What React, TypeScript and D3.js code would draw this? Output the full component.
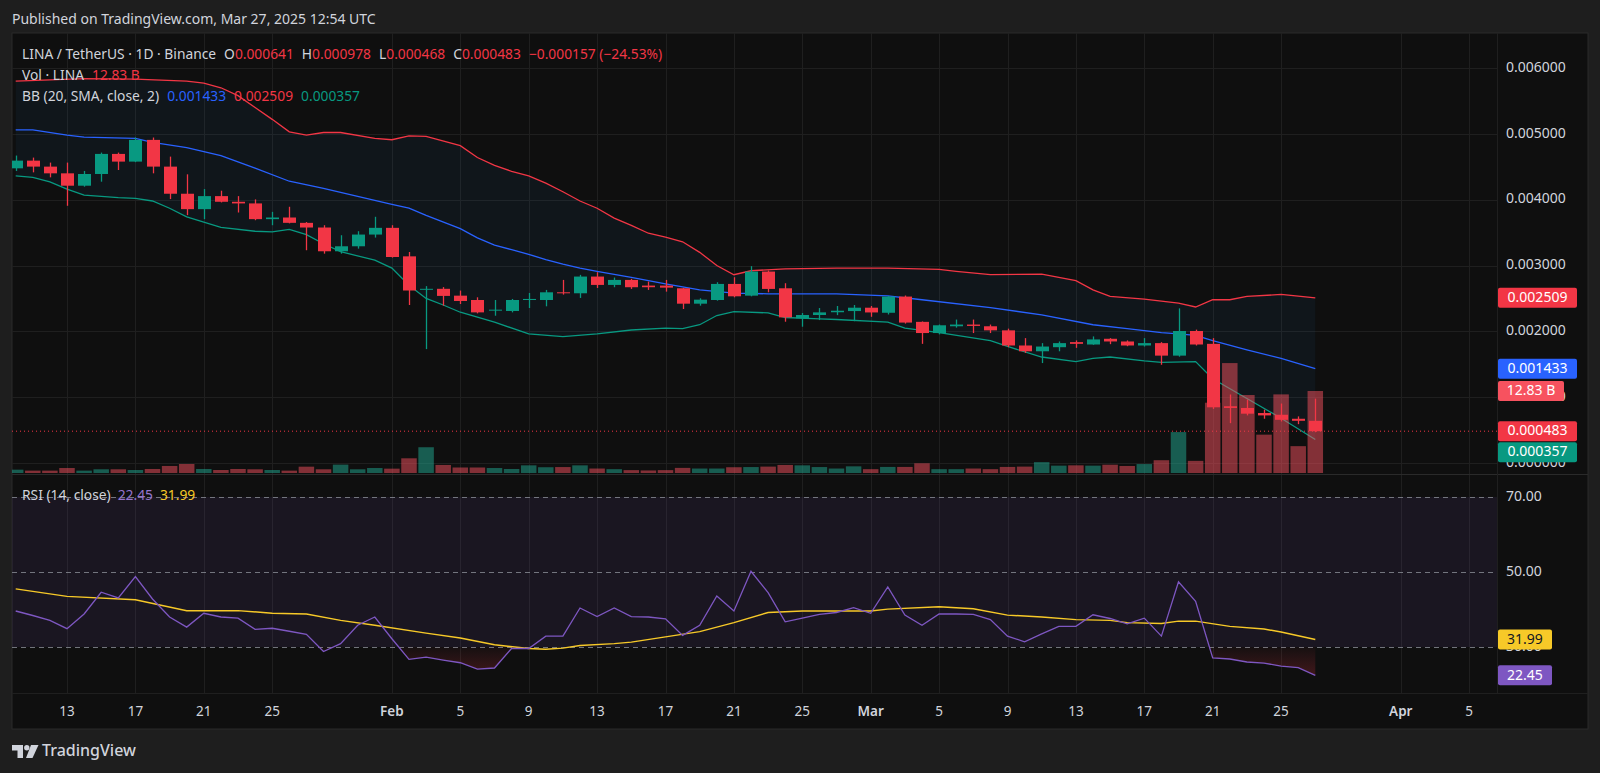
import React from "react";
import * as d3 from "d3";

// LINA / USDT daily, 2025-01-10 .. 2025-03-27
// prices in thousandths of a USDT (1 = 0.001000), volumes in billions
const firstDay = "2025-01-10";

const opens = [
  4.476, 4.593, 4.502, 4.4, 4.212, 4.39, 4.695, 4.578, 4.908, 4.502,
  4.09, 3.856, 4.054, 3.968, 3.943, 3.704, 3.729, 3.648, 3.577, 3.216,
  3.292, 3.47, 3.572, 3.139, 2.631, 2.646, 2.542, 2.476, 2.314, 2.309,
  2.476, 2.476, 2.593, 2.578, 2.832, 2.705, 2.781, 2.695, 2.695, 2.654,
  2.42, 2.476, 2.72, 2.542, 2.908, 2.654, 2.197, 2.248, 2.29, 2.308,
  2.359, 2.282, 2.528, 2.144, 1.974, 2.077, 2.103, 2.077, 2.015, 1.785,
  1.697, 1.759, 1.836, 1.8, 1.887, 1.846, 1.785, 1.821, 1.631, 2.005,
  1.81, 0.862, 0.836, 0.759, 0.733, 0.672, 0.641,
];
const highs = [
  4.67, 4.639, 4.563, 4.563, 4.436, 4.715, 4.715, 4.944, 4.944, 4.654,
  4.385, 4.161, 4.136, 4.054, 4.004, 3.815, 3.892, 3.66, 3.612, 3.46,
  3.521, 3.74, 3.612, 3.205, 2.687, 2.672, 2.619, 2.517, 2.476, 2.492,
  2.583, 2.629, 2.781, 2.858, 2.898, 2.817, 2.797, 2.756, 2.781, 2.66,
  2.502, 2.746, 2.822, 2.99, 2.924, 2.731, 2.278, 2.354, 2.385, 2.4,
  2.385, 2.538, 2.544, 2.15, 2.103, 2.179, 2.179, 2.103, 2.041, 1.897,
  1.821, 1.846, 1.862, 1.923, 1.897, 1.862, 1.897, 1.836, 2.349, 2.026,
  1.897, 1.041, 0.964, 0.81, 0.903, 0.708, 0.978,
];
const lows = [
  4.436, 4.415, 4.339, 3.907, 4.197, 4.273, 4.451, 4.57, 4.4, 4.009,
  3.765, 3.704, 3.958, 3.805, 3.688, 3.612, 3.64, 3.232, 3.18, 3.18,
  3.256, 3.424, 3.12, 2.4, 1.73, 2.39, 2.415, 2.273, 2.237, 2.288,
  2.354, 2.38, 2.558, 2.507, 2.659, 2.67, 2.644, 2.629, 2.603, 2.339,
  2.39, 2.466, 2.517, 2.532, 2.593, 2.146, 2.07, 2.171, 2.246, 2.154,
  2.221, 2.256, 2.118, 1.81, 1.954, 2.056, 1.974, 1.974, 1.759, 1.672,
  1.518, 1.697, 1.749, 1.795, 1.805, 1.774, 1.769, 1.492, 1.615, 1.785,
  0.821, 0.605, 0.723, 0.672, 0.631, 0.59, 0.468,
];
const closes = [
  4.593, 4.502, 4.4, 4.212, 4.39, 4.695, 4.578, 4.908, 4.502, 4.09,
  3.856, 4.054, 3.968, 3.943, 3.704, 3.729, 3.648, 3.577, 3.216, 3.292,
  3.47, 3.572, 3.129, 2.62, 2.646, 2.538, 2.461, 2.288, 2.329, 2.476,
  2.492, 2.593, 2.578, 2.832, 2.705, 2.781, 2.67, 2.67, 2.664, 2.42,
  2.481, 2.72, 2.532, 2.908, 2.644, 2.212, 2.248, 2.288, 2.313, 2.359,
  2.287, 2.528, 2.133, 1.974, 2.092, 2.103, 2.082, 2.015, 1.785, 1.697,
  1.769, 1.821, 1.81, 1.877, 1.846, 1.785, 1.821, 1.631, 2.005, 1.8,
  0.846, 0.836, 0.749, 0.723, 0.656, 0.641, 0.483,
];
const volumes = [
  0.52, 0.37, 0.37, 0.78, 0.37, 0.58, 0.58, 0.47, 0.63, 1.1,
  1.41, 0.63, 0.47, 0.63, 0.58, 0.47, 0.37, 0.99, 0.58, 1.31,
  0.58, 0.78, 0.68, 2.3, 4.03, 1.26, 0.86, 0.86, 0.78, 0.63,
  1.2, 0.9, 0.93, 1.2, 0.7, 0.6, 0.45, 0.4, 0.45, 0.8,
  0.7, 0.7, 0.9, 0.93, 1.0, 1.26, 1.2, 0.93, 0.7, 1.04,
  0.6, 0.95, 0.95, 1.52, 0.6, 0.6, 0.7, 0.6, 0.95, 1.0,
  1.7, 1.15, 1.2, 1.15, 1.3, 1.1, 1.4, 2.0, 6.4, 1.9,
  11.0, 17.2, 12.2, 6.0, 12.3, 4.2, 12.83,
];

// Bollinger bands: [day index, price]
const bbUpper: [number, number][] = [
  [0, 5.8], [2, 5.82], [4, 5.84], [7, 5.83], [10, 5.8], [11, 5.77], [12, 5.7],
  [13, 5.58], [14, 5.4], [15, 5.22], [16, 5.03], [17, 4.98], [18, 5.02], [19, 5.02],
  [21, 4.93], [22, 4.91], [23, 4.97], [24, 4.96], [26, 4.82], [27, 4.64], [28, 4.52],
  [29, 4.43], [30, 4.36], [31, 4.25], [32, 4.12], [33, 3.98], [34, 3.87], [35, 3.72],
  [36, 3.61], [37, 3.49], [38, 3.43], [39, 3.36], [40, 3.2], [41, 3.0], [42, 2.86],
  [43, 2.92], [45, 2.95], [48, 2.96], [51, 2.96], [54, 2.94], [55, 2.91], [57, 2.86],
  [60, 2.87], [62, 2.77], [63, 2.63], [64, 2.53], [66, 2.49], [68, 2.43], [69, 2.37],
  [70, 2.48], [71, 2.48], [72, 2.53], [74, 2.56], [76, 2.509],
];
const bbBasis: [number, number][] = [
  [0, 5.06], [1, 5.06], [3, 4.98], [4, 4.95], [7, 4.93], [8, 4.87], [10, 4.79],
  [12, 4.67], [14, 4.48], [16, 4.28], [18, 4.17], [21, 3.99], [22, 3.93], [23, 3.87],
  [24, 3.76], [26, 3.56], [27, 3.42], [28, 3.31], [29, 3.24], [30, 3.17], [31, 3.09],
  [32, 3.02], [33, 2.96], [34, 2.91], [36, 2.82], [38, 2.72], [40, 2.63], [42, 2.58],
  [44, 2.57], [48, 2.57], [51, 2.54], [53, 2.48], [57, 2.36], [60, 2.25], [63, 2.1],
  [65, 2.04], [67, 1.98], [68, 1.96], [69, 1.94], [70, 1.86], [72, 1.72], [74, 1.59],
  [76, 1.433],
];
const bbLower: [number, number][] = [
  [0, 4.36], [1, 4.34], [2, 4.27], [3, 4.16], [4, 4.07], [6, 4.03], [7, 4.02],
  [8, 3.98], [9, 3.87], [10, 3.74], [12, 3.58], [14, 3.52], [15, 3.51], [16, 3.55],
  [17, 3.47], [18, 3.33], [19, 3.21], [21, 3.08], [22, 2.96], [23, 2.7], [24, 2.5],
  [25, 2.4], [26, 2.29], [28, 2.14], [30, 1.96], [32, 1.92], [34, 1.96], [36, 2.02],
  [38, 2.05], [39, 2.04], [40, 2.1], [41, 2.24], [42, 2.3], [44, 2.28], [45, 2.21],
  [47, 2.19], [48, 2.18], [51, 2.14], [52, 2.05], [54, 1.98], [57, 1.86], [58, 1.77],
  [60, 1.61], [62, 1.54], [63, 1.59], [64, 1.61], [66, 1.55], [67, 1.53], [69, 1.54],
  [70, 1.28], [72, 0.98], [74, 0.68], [76, 0.357],
];

const rsi = [
  39.6, 38.4, 37.1, 34.9, 38.8, 44.6, 43.1, 48.8, 42.8, 38.0,
  35.3, 39.0, 38.0, 37.7, 34.7, 35.0, 34.2, 33.4, 28.8, 30.9,
  35.8, 38.0, 32.2, 26.7, 27.3, 26.5, 25.8, 24.1, 24.4, 29.6,
  29.6, 32.9, 32.9, 40.4, 38.1, 40.4, 38.1, 38.0, 37.5, 33.1,
  35.8, 43.6, 39.6, 50.2, 44.5, 36.7, 37.7, 38.7, 39.2, 40.5,
  39.0, 46.0, 38.5, 35.8, 38.8, 38.8, 38.7, 37.3, 32.9, 31.4,
  33.5, 35.5, 35.5, 38.6, 37.6, 36.2, 37.7, 32.9, 47.4, 42.2,
  27.1, 26.8, 26.0, 25.7, 24.9, 24.5, 22.45,
];
const rsiMa: [number, number][] = [
  [0, 45.5], [3, 43.5], [7, 42.6], [10, 39.7], [13, 39.7], [15, 39.0], [17, 38.8],
  [19, 37.1], [21, 35.8], [24, 33.7], [26, 32.4], [28, 30.6], [30, 29.6], [31, 29.4],
  [32, 29.7], [33, 30.4], [35, 30.9], [36, 31.3], [38, 32.7], [40, 34.1], [42, 36.5],
  [44, 39.2], [46, 39.6], [50, 39.6], [51, 40.1], [54, 40.7], [56, 40.2], [58, 38.5],
  [60, 38.0], [62, 37.3], [64, 37.1], [65, 36.5], [67, 36.3], [68, 36.9], [69, 36.9],
  [71, 35.5], [73, 34.8], [74, 34.0], [76, 31.99],
];

const priceTicks = [0, 1, 2, 3, 4, 5, 6];
const rsiLevels = [70, 50, 30];
const dateTicks: [string, string][] = [
  ["2025-01-13", "13"], ["2025-01-17", "17"], ["2025-01-21", "21"], ["2025-01-25", "25"],
  ["2025-02-01", "Feb"], ["2025-02-05", "5"], ["2025-02-09", "9"], ["2025-02-13", "13"],
  ["2025-02-17", "17"], ["2025-02-21", "21"], ["2025-02-25", "25"], ["2025-03-01", "Mar"],
  ["2025-03-05", "5"], ["2025-03-09", "9"], ["2025-03-13", "13"], ["2025-03-17", "17"],
  ["2025-03-21", "21"], ["2025-03-25", "25"], ["2025-04-01", "Apr"], ["2025-04-05", "5"],
];

const UP = "#089981";
const DOWN = "#f23645";
const BLUE = "#2962ff";
const PURPLE = "#7e57c2";
const YELLOW = "#f7c928";
const TEXT = "#d1d4dc";
const FONT = "'Noto Sans', 'DejaVu Sans', sans-serif";

const W = 1600;
const H = 773;
const frame = { left: 12, right: 1588, top: 33, bottom: 729 };
const plotRight = 1497;
const priceBottom = 474;
const rsiBottom = 693;

export default function App() {
  const day0 = new Date(firstDay + "T00:00:00Z");
  const dates = closes.map((_, i) => d3.utcDay.offset(day0, i));
  const x = d3
    .scaleUtc()
    .domain([day0, new Date("2025-04-05T00:00:00Z")])
    .range([15.7, 1469.2]);
  const xi = (i: number) => x(d3.utcDay.offset(day0, i));

  const priceY = d3.scaleLinear().domain([0, 6]).range([463, 68]);
  const volY = d3.scaleLinear().domain([0, 12.83]).range([473, 391]);
  const rsiY = d3.scaleLinear().domain([30, 70]).range([647, 497]);

  const bandLine = d3
    .line<[number, number]>()
    .x((d) => xi(d[0]))
    .y((d) => priceY(d[1]));

  // fill between upper and lower band, both read at their own days
  const upperPts = bbUpper.map((d) => [xi(d[0]), priceY(d[1])]);
  const lowerPts = bbLower.map((d) => [xi(d[0]), priceY(d[1])]).reverse();
  const bandFill =
    "M" + upperPts.map((p) => p.join(",")).join("L") + "L" + lowerPts.map((p) => p.join(",")).join("L") + "Z";

  const rsiLine = d3
    .line<number>()
    .x((_, i) => xi(i))
    .y((d) => rsiY(d));
  const rsiFill = d3
    .area<number>()
    .x((_, i) => xi(i))
    .y0(rsiY(30))
    .y1((d) => rsiY(d));
  const maLine = d3
    .line<[number, number]>()
    .x((d) => xi(d[0]))
    .y((d) => rsiY(d[1]));

  const last = closes.length - 1;
  const lastVolUp = closes[last] >= opens[last];

  type Tag = { y: number; text: string; bg: string; w: number; fg: string };
  const tags: Tag[] = [
    { y: priceY(bbUpper[bbUpper.length - 1][1]), text: "0.002509", bg: DOWN, w: 79, fg: "#fff" },
    { y: priceY(bbBasis[bbBasis.length - 1][1]), text: "0.001433", bg: BLUE, w: 79, fg: "#fff" },
    { y: volY(volumes[last]), text: "12.83 B", bg: lastVolUp ? "#22ab94" : "#f7525f", w: 66, fg: "#fff" },
    { y: priceY(closes[last]), text: "0.000483", bg: DOWN, w: 79, fg: "#fff" },
    { y: priceY(bbLower[bbLower.length - 1][1]), text: "0.000357", bg: UP, w: 79, fg: "#fff" },
  ].sort((a, b) => a.y - b.y);
  for (let i = 1; i < tags.length; i++) {
    if (tags[i].y < tags[i - 1].y + 21) tags[i].y = tags[i - 1].y + 21;
  }
  const rsiTags: Tag[] = [
    { y: rsiY(rsiMa[rsiMa.length - 1][1]), text: "31.99", bg: YELLOW, w: 54, fg: "#131722" },
    { y: rsiY(rsi[last]), text: "22.45", bg: PURPLE, w: 54, fg: "#fff" },
  ];

  const bodyW = 13;
  const volW = 15.5;

  return (
    <svg width={W} height={H} style={{ position: "absolute", left: 0, top: 0, background: "#1e1e1e" }}>
      <defs>
        <clipPath id="pricePane">
          <rect x={frame.left} y={frame.top} width={plotRight - frame.left} height={priceBottom - frame.top} />
        </clipPath>
        <clipPath id="rsiPane">
          <rect x={frame.left} y={priceBottom} width={plotRight - frame.left} height={rsiBottom - priceBottom} />
        </clipPath>
        <clipPath id="oversold">
          <rect x={frame.left} y={rsiY(30)} width={plotRight - frame.left} height={rsiBottom - rsiY(30)} />
        </clipPath>
        <linearGradient id="osGrad" gradientUnits="userSpaceOnUse" x1="0" x2="0" y1={rsiY(30)} y2={rsiY(20)}>
          <stop offset="0" stopColor={DOWN} stopOpacity={0.03} />
          <stop offset="1" stopColor={DOWN} stopOpacity={0.28} />
        </linearGradient>
      </defs>

      <text x={12} y={20} fill={TEXT} fontFamily={FONT} fontSize={14} dominantBaseline="middle">
        Published on TradingView.com, Mar 27, 2025 12:54 UTC
      </text>

      {/* chart frame */}
      <rect
        x={frame.left}
        y={frame.top}
        width={frame.right - frame.left}
        height={frame.bottom - frame.top}
        fill="#0f0f0f"
        stroke="#2a2a2a"
      />

      {/* grid */}
      {dateTicks.map(([d]) => (
        <line
          key={"vg" + d}
          x1={Math.round(x(new Date(d + "T00:00:00Z"))) + 0.5}
          x2={Math.round(x(new Date(d + "T00:00:00Z"))) + 0.5}
          y1={frame.top}
          y2={rsiBottom}
          stroke="#1f1f1f"
        />
      ))}
      {priceTicks.map((t) => (
        <line
          key={"hg" + t}
          x1={frame.left}
          x2={plotRight}
          y1={Math.round(priceY(t)) + 0.5}
          y2={Math.round(priceY(t)) + 0.5}
          stroke="#1f1f1f"
        />
      ))}

      {/* price pane */}
      <g clipPath="url(#pricePane)">
        <path d={bandFill} fill="rgba(33,150,243,0.055)" />
        <path d={bandLine(bbUpper) ?? ""} fill="none" stroke={DOWN} strokeWidth={1.3} />
        <path d={bandLine(bbBasis) ?? ""} fill="none" stroke={BLUE} strokeWidth={1.3} />
        <path d={bandLine(bbLower) ?? ""} fill="none" stroke={UP} strokeWidth={1.3} />

        {volumes.map((v, i) => (
          <rect
            key={"v" + i}
            x={xi(i) - volW / 2}
            y={volY(v)}
            width={volW}
            height={volY(0) - volY(v)}
            fill={closes[i] >= opens[i] ? "rgba(34,171,148,0.5)" : "rgba(247,82,95,0.5)"}
          />
        ))}

        <line
          x1={frame.left}
          x2={plotRight}
          y1={priceY(closes[last])}
          y2={priceY(closes[last])}
          stroke={DOWN}
          strokeDasharray="1 3"
        />

        {dates.map((_, i) => {
          const o = opens[i];
          const c = closes[i];
          const col = c >= o ? UP : DOWN;
          const cx = Math.round(xi(i)) + 0.5;
          const top = priceY(Math.max(o, c));
          const h = Math.max(1, Math.abs(priceY(o) - priceY(c)));
          return (
            <g key={"c" + i}>
              <line x1={cx} x2={cx} y1={priceY(highs[i])} y2={priceY(lows[i])} stroke={col} strokeWidth={1.3} />
              <rect x={cx - bodyW / 2} y={top} width={bodyW} height={h} fill={col} />
            </g>
          );
        })}
      </g>

      {/* legend */}
      <g fontFamily={FONT} fontSize={13.8} fill={TEXT}>
        <text x={22} y={55} dominantBaseline="middle">
          <tspan>LINA / TetherUS · 1D · Binance</tspan>
          <tspan dx={8}>O</tspan>
          <tspan fill={DOWN}>0.000641</tspan>
          <tspan dx={8}>H</tspan>
          <tspan fill={DOWN}>0.000978</tspan>
          <tspan dx={8}>L</tspan>
          <tspan fill={DOWN}>0.000468</tspan>
          <tspan dx={8}>C</tspan>
          <tspan fill={DOWN}>0.000483</tspan>
          <tspan dx={8} fill={DOWN}>−0.000157 (−24.53%)</tspan>
        </text>
        <text x={22} y={76} dominantBaseline="middle">
          <tspan>Vol · LINA</tspan>
          <tspan dx={8} fill={DOWN}>12.83 B</tspan>
        </text>
        <text x={22} y={97} dominantBaseline="middle">
          <tspan>BB (20, SMA, close, 2)</tspan>
          <tspan dx={8} fill={BLUE}>0.001433</tspan>
          <tspan dx={8} fill={DOWN}>0.002509</tspan>
          <tspan dx={8} fill={UP}>0.000357</tspan>
        </text>
      </g>

      {/* pane separators */}
      <line x1={frame.left} x2={frame.right} y1={priceBottom + 0.5} y2={priceBottom + 0.5} stroke="#2a2a2a" />
      <line x1={frame.left} x2={frame.right} y1={rsiBottom + 0.5} y2={rsiBottom + 0.5} stroke="#1f1f1f" />
      <line x1={plotRight + 0.5} x2={plotRight + 0.5} y1={frame.top} y2={rsiBottom} stroke="#1f1f1f" />

      {/* RSI pane */}
      <g clipPath="url(#rsiPane)">
        <rect
          x={frame.left}
          y={rsiY(70)}
          width={plotRight - frame.left}
          height={rsiY(30) - rsiY(70)}
          fill="rgba(126,87,194,0.1)"
        />
        {rsiLevels.map((l) => (
          <line
            key={"rl" + l}
            x1={frame.left}
            x2={plotRight}
            y1={Math.round(rsiY(l)) + 0.5}
            y2={Math.round(rsiY(l)) + 0.5}
            stroke="#8a8d96"
            strokeOpacity={0.8}
            strokeDasharray="5 4"
          />
        ))}
        <path d={rsiFill(rsi) ?? ""} fill="url(#osGrad)" clipPath="url(#oversold)" />
        <path d={maLine(rsiMa) ?? ""} fill="none" stroke={YELLOW} strokeWidth={1.5} />
        <path d={rsiLine(rsi) ?? ""} fill="none" stroke={PURPLE} strokeWidth={1.3} />
      </g>
      <text x={22} y={496} fontFamily={FONT} fontSize={13.8} fill={TEXT} dominantBaseline="middle">
        <tspan>RSI (14, close)</tspan>
        <tspan dx={7} fill="#9575cd">22.45</tspan>
        <tspan dx={7} fill={YELLOW}>31.99</tspan>
      </text>

      {/* price axis */}
      <g fontFamily={FONT} fontSize={14} dominantBaseline="middle">
        {priceTicks.map((t) => (
          <text key={"pt" + t} x={1506} y={priceY(t)} fill={TEXT}>
            {(t / 1000).toFixed(6)}
          </text>
        ))}
        {tags.map((t) => (
          <g key={t.text}>
            <rect x={plotRight + 1} y={t.y - 10} width={t.w} height={20} rx={2} fill={t.bg} />
            <text x={plotRight + 1 + t.w / 2} y={t.y + 0.5} fill={t.fg} textAnchor="middle">
              {t.text}
            </text>
          </g>
        ))}
        {rsiLevels.map((l) => (
          <text key={"ra" + l} x={1506} y={rsiY(l)} fill={TEXT}>
            {l.toFixed(2)}
          </text>
        ))}
        {rsiTags.map((t) => (
          <g key={t.text}>
            <rect x={plotRight + 1} y={t.y - 10} width={t.w} height={20} rx={2} fill={t.bg} />
            <text x={plotRight + 1 + t.w / 2} y={t.y + 0.5} fill={t.fg} textAnchor="middle">
              {t.text}
            </text>
          </g>
        ))}
      </g>

      {/* time axis */}
      <g fontFamily={FONT} fontSize={13.5} fill={TEXT} textAnchor="middle" dominantBaseline="middle">
        {dateTicks.map(([d, label]) => (
          <text
            key={"dt" + d}
            x={x(new Date(d + "T00:00:00Z"))}
            y={712}
            fontWeight={/^[A-Z]/.test(label) ? 600 : 400}
          >
            {label}
          </text>
        ))}
      </g>

      {/* footer logo */}
      <g fill={TEXT}>
        <path d="M12 745 h11 v13 h-5.5 v-7.5 h-5.5 z" />
        <circle cx={26.8} cy={747.8} r={2.7} />
        <path d="M31 745 h7.5 l-6 13 h-6.5 z" />
      </g>
      <text x={42} y={752} fontFamily={FONT} fontSize={16} fontWeight={500} fill={TEXT} dominantBaseline="middle">
        TradingView
      </text>
    </svg>
  );
}
